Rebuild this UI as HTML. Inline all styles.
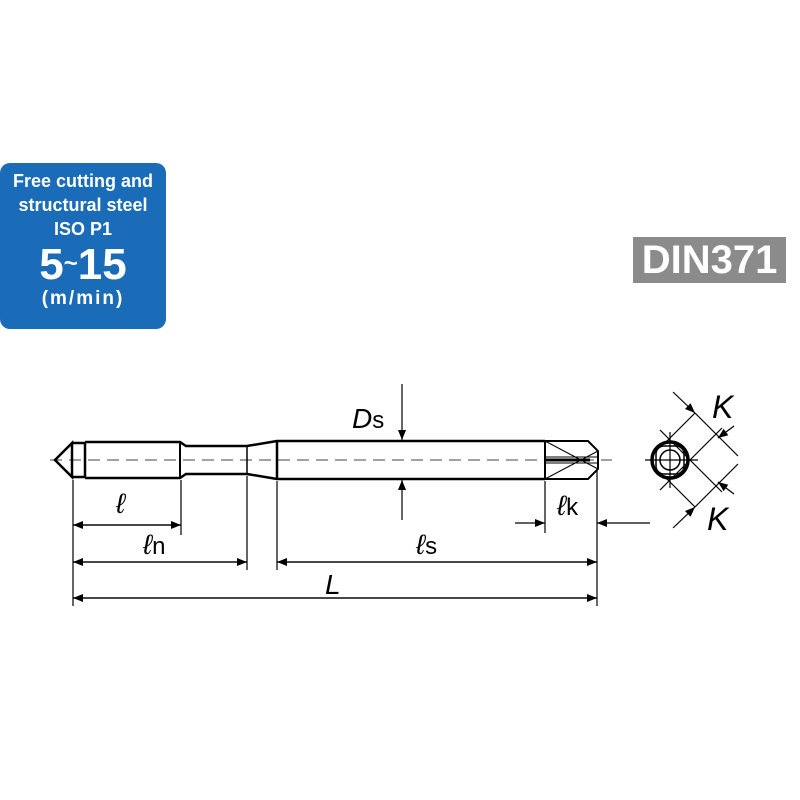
<!DOCTYPE html>
<html><head><style>
body{margin:0;width:800px;height:800px;background:#fff;position:relative;overflow:hidden;font-family:"Liberation Sans",sans-serif}
.badge{position:absolute;left:0;top:163px;width:166px;height:166px;background:#1a6cb8;border-radius:10px;color:#fff;text-align:center}
.din{position:absolute;left:633px;top:237px;width:153px;height:46px;background:#8b8b8b;color:#fff;font-weight:bold;font-size:40px;line-height:46px;text-align:center}
</style></head><body>
<div class="badge">
<div style="font-size:18px;font-weight:bold;line-height:24px;margin-top:6px">Free cutting and<br>structural steel<br>ISO P1</div>
<div style="font-size:44px;font-weight:bold;line-height:46px">5<span style="font-size:24px;vertical-align:8px">~</span>15</div>
<div style="font-size:19px;font-weight:bold;letter-spacing:2px;line-height:22px">(m/min)</div>
</div>
<div class="din">DIN371</div>
<svg width="800" height="800" style="position:absolute;left:0;top:0" font-family="Liberation Sans,sans-serif">
<defs><marker id="a" markerWidth="10" markerHeight="8" refX="10" refY="4" orient="auto" markerUnits="userSpaceOnUse"><path d="M0,0L10,4L0,8z" fill="#000"/></marker></defs>
<g stroke="#000" fill="none">
<line x1="50" y1="460" x2="612" y2="460" stroke-width="1" stroke-dasharray="12,7" stroke="#444"/>
<path d="M72,443 L55,460 L72,477 Z M72,443 L85,443 L85,477 L72,477 M85,442 L180,442 L186,446 L247,446 L277,441 L545,441 M85,478 L180,478 L186,474 L247,474 L277,479 L545,479" stroke-width="2.5"/>
<line x1="85" y1="442" x2="85" y2="478" stroke-width="2"/>
<line x1="180" y1="442" x2="180" y2="478" stroke-width="2"/>
<line x1="247" y1="446" x2="247" y2="474" stroke-width="1.5"/>
<line x1="277" y1="441" x2="277" y2="479" stroke-width="2.5"/>
<path d="M545,441 L588,441 L598,451 L598,469 L588,479 L545,479 Z" stroke-width="2"/>
<path d="M545,441 L598,469 M545,479 L598,451 M545,457 L598,457 M545,463 L598,463" stroke-width="1"/>
<line x1="545" y1="460" x2="590" y2="460" stroke-width="3"/>
<g stroke-width="1.2">
<line x1="73" y1="480" x2="73" y2="606"/>
<line x1="181" y1="480" x2="181" y2="535"/>
<line x1="247" y1="476" x2="247" y2="570"/>
<line x1="277" y1="481" x2="277" y2="570"/>
<line x1="597" y1="471" x2="597" y2="606"/>
<line x1="545" y1="481" x2="545" y2="533"/>
<line x1="402" y1="384" x2="402" y2="440" marker-end="url(#a)"/>
<line x1="402" y1="520" x2="402" y2="480" marker-end="url(#a)"/>
<line x1="181" y1="525" x2="73" y2="525" marker-end="url(#a)"/>
<line x1="73" y1="525" x2="181" y2="525" marker-end="url(#a)"/>
<line x1="247" y1="562" x2="73" y2="562" marker-end="url(#a)"/>
<line x1="73" y1="562" x2="247" y2="562" marker-end="url(#a)"/>
<line x1="597" y1="562" x2="277" y2="562" marker-end="url(#a)"/>
<line x1="277" y1="562" x2="597" y2="562" marker-end="url(#a)"/>
<line x1="597" y1="598" x2="73" y2="598" marker-end="url(#a)"/>
<line x1="73" y1="598" x2="597" y2="598" marker-end="url(#a)"/>
<line x1="515" y1="523" x2="545" y2="523" marker-end="url(#a)"/>
<line x1="650" y1="523" x2="597" y2="523" marker-end="url(#a)"/>
<line x1="645" y1="460" x2="698" y2="460"/>
<line x1="670" y1="432" x2="670" y2="488"/>
<line x1="695" y1="413" x2="738" y2="456"/>
<line x1="695" y1="507" x2="738" y2="464"/>
<line x1="660" y1="430" x2="722" y2="492"/>
<line x1="660" y1="490" x2="722" y2="428"/>
<line x1="666" y1="442" x2="695" y2="413"/>
<line x1="666" y1="478" x2="695" y2="507"/>
<line x1="673" y1="392" x2="695" y2="413" marker-end="url(#a)"/>
<line x1="734" y1="426" x2="718" y2="438" marker-end="url(#a)"/>
<line x1="734" y1="494" x2="718" y2="482" marker-end="url(#a)"/>
<line x1="673" y1="528" x2="695" y2="507" marker-end="url(#a)"/>
</g>
<circle cx="670" cy="460" r="18" stroke-width="3.5"/>
<rect x="656" y="446" width="28" height="28" rx="8" stroke-width="1.5"/>
<circle cx="670" cy="460" r="10" stroke-width="1.5"/>
</g>
<g font-size="28" font-style="italic">
<text x="116" y="513">ℓ</text>
<text x="143" y="554">ℓ<tspan font-size="24" font-style="normal">n</tspan></text>
<text x="416" y="554">ℓ<tspan font-size="24" font-style="normal">s</tspan></text>
<text x="325" y="594">L</text>
<text x="352" y="428">D<tspan font-size="24" font-style="normal">s</tspan></text>
<text x="557" y="515">ℓ<tspan font-size="24" font-style="normal">k</tspan></text>
<text x="712" y="418" font-size="32">K</text>
<text x="707" y="530" font-size="32">K</text>
</g>
</svg>
</body></html>
